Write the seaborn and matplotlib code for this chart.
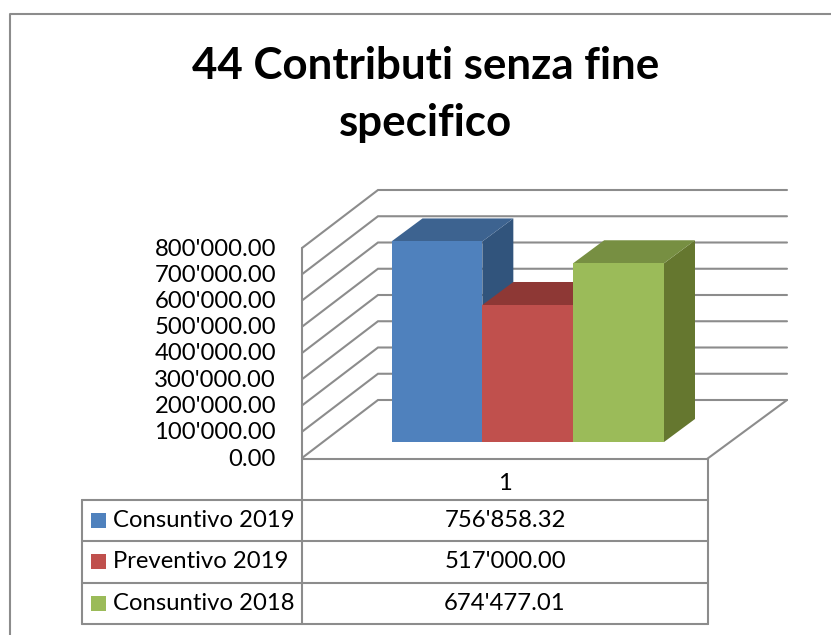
import numpy as np
import pandas as pd
import matplotlib
matplotlib.use("Agg")
import matplotlib.pyplot as plt
from matplotlib.patches import Polygon, Rectangle
import seaborn as sns

serie = ["Consuntivo 2019", "Preventivo 2019", "Consuntivo 2018"]
valori = [756858.32, 517000.00, 674477.01]
valori_label = ["756'858.32", "517'000.00", "674'477.01"]
tick_valori = [0, 100000, 200000, 300000, 400000, 500000, 600000, 700000, 800000]
tick_label = ["0.00", "100'000.00", "200'000.00", "300'000.00", "400'000.00",
              "500'000.00", "600'000.00", "700'000.00", "800'000.00"]
colori = ["#4F81BD", "#C0504D", "#9BBB59"]
colori_top = ["#3D6390", "#8E3835", "#778F42"]
colori_side = ["#31547C", "#7C302D", "#65772F"]
titolo = ["44 Contributi senza fine", "specifico"]
categoria = "1"

W, H = 831, 635
GRIGIO = "#8C8C8C"
FONT = 17.2

sns.set_theme(style="white")
plt.rcParams["font.family"] = ["Lato", "DejaVu Sans"]

fig = plt.figure(figsize=(W / 100, H / 100), dpi=100)

# pixel axes for the walls, the table and the text
bg = fig.add_axes([0, 0, 1, 1])
bg.set_xlim(0, W)
bg.set_ylim(H, 0)
bg.axis("off")

# front face of the bars, in data units
bar_left, bar_right, bar_base, bar_top = 391.5, 664, 442, 230
ax = fig.add_axes([bar_left / W, 1 - bar_base / H,
                   (bar_right - bar_left) / W, (bar_base - bar_top) / H])
ax.patch.set_alpha(0)

df = pd.DataFrame({"serie": serie, "valore": valori})
sns.barplot(data=df, x="serie", y="valore", hue="serie", palette=colori,
            saturation=1, width=1, legend=False, linewidth=0, ax=ax)
ax.set_xlim(-0.5, 2.5)
ax.set_ylim(0, 800000)
ax.axis("off")

# frame, only top and left are in the picture
bg.plot([10, 10, W], [H, 14, 14], color=GRIGIO, lw=1.5)

bg.text(425.5, 79, titolo[0], ha="center", va="baseline", fontsize=31.6,
        fontweight="bold", color="black")
bg.text(426, 136, titolo[1], ha="center", va="baseline", fontsize=31.6,
        fontweight="bold", color="black")

# walls and floor
dx, dy = 76, -58
front_0, front_800 = 458, 248
for v, lab in zip(tick_valori, tick_label):
    y = front_0 - (front_0 - front_800) * v / 800000
    bg.plot([302, 302 + dx, 787], [y, y + dy, y + dy], color=GRIGIO, lw=1.5,
            solid_joinstyle="miter")
    bg.text(276, y + 1, lab, ha="right", va="center", fontsize=FONT, color="black")
bg.plot([302, 302], [front_800, front_0], color=GRIGIO, lw=1.5)
bg.plot([302, 707, 787], [459, 459, 400], color=GRIGIO, lw=1.5)

# depth of the bars, from the same values as the front
bar_w = (bar_right - bar_left) / len(valori)
px, py = 31, -23
for i, v in enumerate(valori):
    x0 = bar_left + i * bar_w
    x1 = x0 + bar_w
    yt = bar_base - (bar_base - bar_top) * v / 800000
    # zorder above the wall lines
    bg.add_patch(Polygon([(x1, bar_base), (x1 + px, bar_base + py), (x1 + px, yt + py), (x1, yt)],
                         fc=colori_side[i], ec="none", zorder=3))
    bg.add_patch(Polygon([(x0, yt), (x0 + px, yt + py), (x1 + px, yt + py), (x1, yt)],
                         fc=colori_top[i], ec="none", zorder=3))

# data table
t_left, t_col, t_right = 82, 302, 708
righe = [500, 541, 583, 624]
bg.plot([t_col, t_col], [459, righe[-1]], color=GRIGIO, lw=1.5)
bg.plot([t_right, t_right], [459, righe[-1]], color=GRIGIO, lw=1.5)
bg.plot([t_left, t_left], [righe[0], righe[-1]], color=GRIGIO, lw=1.5)
for y in righe:
    bg.plot([t_left, t_right], [y, y], color=GRIGIO, lw=1.5)
bg.text((t_col + t_right) / 2, 483, categoria, ha="center", va="center",
        fontsize=FONT, color="black")
for i, (s, lab) in enumerate(zip(serie, valori_label)):
    yc = (righe[i] + righe[i + 1]) / 2
    bg.add_patch(Rectangle((91, yc - 8), 15, 15, fc=colori[i], ec="none"))
    bg.text(113, yc, s, ha="left", va="center", fontsize=FONT, color="black")
    bg.text((t_col + t_right) / 2, yc, lab, ha="center", va="center",
            fontsize=FONT, color="black")

fig.savefig("out.png", dpi=100)
